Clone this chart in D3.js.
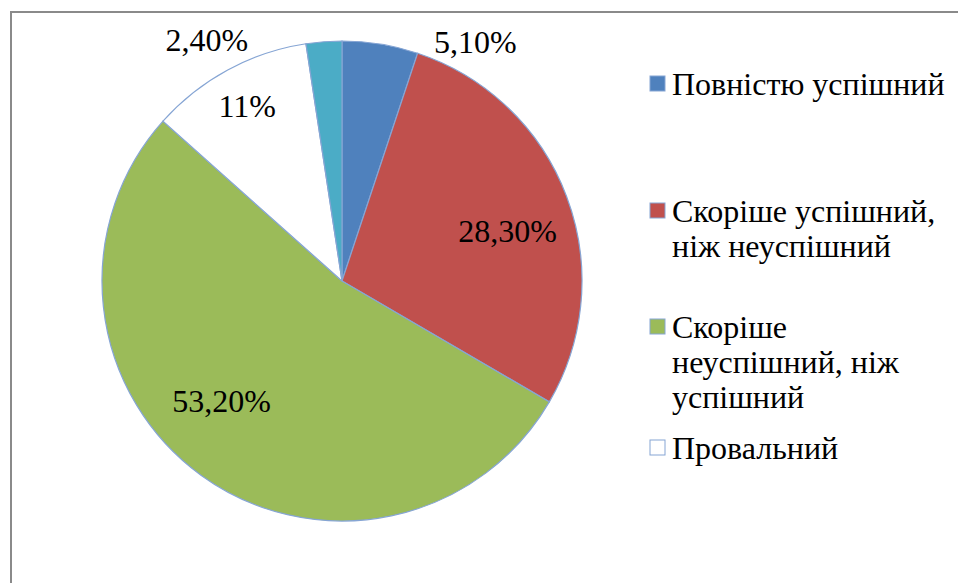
<!DOCTYPE html>
<html>
<head>
<meta charset="utf-8">
<script src="https://cdn.jsdelivr.net/npm/d3@7"></script>
</head>
<body style="margin:0">
<svg id="fig" width="958" height="583"></svg>
<script>
// data
const categories = [
  "Повністю успішний",
  "Скоріше успішний, ніж неуспішний",
  "Скоріше неуспішний, ніж успішний",
  "Провальний",
  "Важко відповісти"
];
const values = [5.1, 28.3, 53.2, 11, 2.4];
const valueLabels = ["5,10%", "28,30%", "53,20%", "11%", "2,40%"];
const colors = ["#4f81bd", "#c0504d", "#9bbb59", "#ffffff", "#4bacc6"];

// legend text broken the way the reference wraps it (last entry is cut off)
const legendLines = [
  ["Повністю успішний"],
  ["Скоріше успішний,", "ніж неуспішний"],
  ["Скоріше", "неуспішний, ніж", "успішний"],
  ["Провальний"]
];

// label placement: distance from centre (share of radius) and angle shift, degrees
const labelRadius = [1.14, 0.72, 0.71, 0.83, 1.15];
const labelShift = [20, 4, 9, 0, -25];

const svg = d3.select("#fig");
const cx = 342, cy = 281, R = 240;

// chart frame (only top and left edges fall inside the picture)
svg.append("path")
  .attr("d", "M11,583 V12 H958")
  .attr("fill", "none")
  .attr("stroke", "#8a8a8a")
  .attr("stroke-width", 2);

const pie = d3.pie().sort(null).value(d => d)(values);
const arc = d3.arc().innerRadius(0).outerRadius(R);

const slices = svg.append("g").attr("transform", `translate(${cx},${cy})`);
slices.selectAll("path")
  .data(pie)
  .join("path")
  .attr("d", arc)
  .attr("fill", (d, i) => colors[i])
  .attr("stroke", "#86a5d4")
  .attr("stroke-width", 1.2);

function labelPos(d, i) {
  let a = (d.startAngle + d.endAngle) / 2 + labelShift[i] * Math.PI / 180;
  return [cx + Math.sin(a) * R * labelRadius[i], cy - Math.cos(a) * R * labelRadius[i]];
}

// legend keys
const legendBase = [95, 222, 338, 459];
const lineH = 35;

const keys = svg.append("g");
keys.selectAll("rect")
  .data(legendLines)
  .join("rect")
  .attr("x", 650)
  .attr("y", (d, i) => legendBase[i] - 19)
  .attr("width", 15)
  .attr("height", 15)
  .attr("fill", (d, i) => colors[i])
  .attr("stroke", "#86a5d4")
  .attr("stroke-width", 1);

// all text goes in one list, appended straight to the svg
const rows = legendLines.flatMap((lines, i) =>
  lines.map((t, j) => ({ t, x: 672, y: legendBase[i] + j * lineH, anchor: "start" })));
pie.forEach((d, i) => {
  const p = labelPos(d, i);
  rows.push({ t: valueLabels[i], x: p[0], y: p[1] + 11, anchor: "middle" });
});

const texts = svg.append("g");
texts.selectAll("text")
  .data(rows)
  .join("text")
  .attr("x", d => d.x)
  .attr("y", d => d.y)
  .attr("font-size", 32)
  .attr("font-family", d => "Liberation Serif")
  .attr("text-anchor", d => d.anchor)
  .text(d => d.t);
</script>
</body>
</html>
